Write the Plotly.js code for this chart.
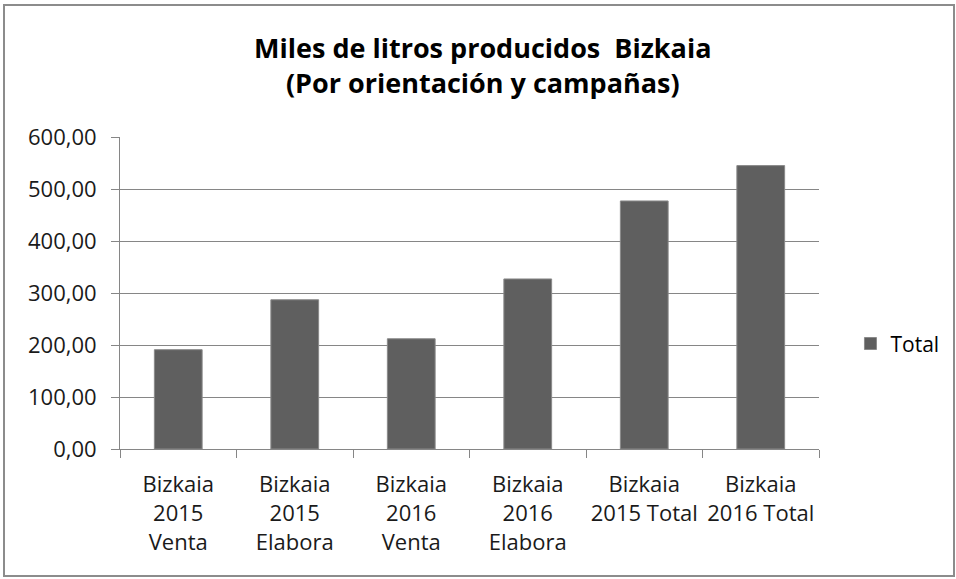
<!DOCTYPE html>
<html>
<head>
<meta charset="utf-8">
<script src="https://cdn.plot.ly/plotly-3.0.1.min.js"></script>
<style>
  html, body { margin: 0; padding: 0; background: #fff; }
  #chart { width: 956px; height: 579px; }
  #frame { position: absolute; left: 3px; top: 4px; width: 948px; height: 569px;
           border: 2px solid #8c8c8c; pointer-events: none; }
</style>
</head>
<body>
<div id="chart"></div>
<div id="frame"></div>
<script>
const categories = [
  "Bizkaia<br>2015<br>Venta",
  "Bizkaia<br>2015<br>Elabora",
  "Bizkaia<br>2016<br>Venta",
  "Bizkaia<br>2016<br>Elabora",
  "Bizkaia<br>2015 Total",
  "Bizkaia<br>2016 Total"
];
const totals = [191, 287, 212, 327, 477, 545];
const yTickVals = [0, 100, 200, 300, 400, 500, 600];
const yTickText = ["0,00", "100,00", "200,00", "300,00", "400,00", "500,00", "600,00"];

const font = "Open Sans, Noto Sans, sans-serif";

Plotly.newPlot("chart", [{
  type: "bar",
  name: "Total",
  x: categories,
  y: totals,
  marker: { color: "#5f5f5f", line: { color: "#8a8a8a", width: 1 } },
  hoverinfo: "y"
}], {
  width: 956,
  height: 579,
  paper_bgcolor: "#ffffff",
  plot_bgcolor: "#ffffff",
  font: { family: font, size: 21, color: "#000000" },
  title: {
    text: "<b>Miles de litros producidos  Bizkaia<br>(Por orientación y campañas)</b>",
    font: { family: font, size: 27, color: "#000000" },
    x: 0.505, xref: "container", xanchor: "center",
    y: 0.9, yref: "container", yanchor: "middle"
  },
  margin: { l: 120, r: 135, t: 137, b: 130 },
  bargap: 0.59,
  showlegend: true,
  legend: {
    x: 1.045, xanchor: "left", y: 0.337, yanchor: "middle",
    font: { family: font, size: 21, color: "#000000" }
  },
  xaxis: {
    type: "category",
    showline: true, linecolor: "#868686", linewidth: 1,
    ticks: "outside", tickson: "boundaries", ticklen: 8, tickcolor: "#868686",
    ticklabelstandoff: 16,
    showgrid: false,
    tickfont: { family: font, size: 22, color: "#1a1a1a" }
  },
  yaxis: {
    range: [0, 600],
    tickmode: "array", tickvals: yTickVals, ticktext: yTickText,
    showline: true, linecolor: "#868686", linewidth: 1,
    ticks: "outside", ticklen: 8, tickcolor: "#868686",
    ticklabelstandoff: 10,
    showgrid: true, gridcolor: "#868686", gridwidth: 1,
    zeroline: false,
    tickfont: { family: font, size: 22, color: "#1a1a1a" }
  }
}, { displayModeBar: false, staticPlot: true });
</script>
</body>
</html>
